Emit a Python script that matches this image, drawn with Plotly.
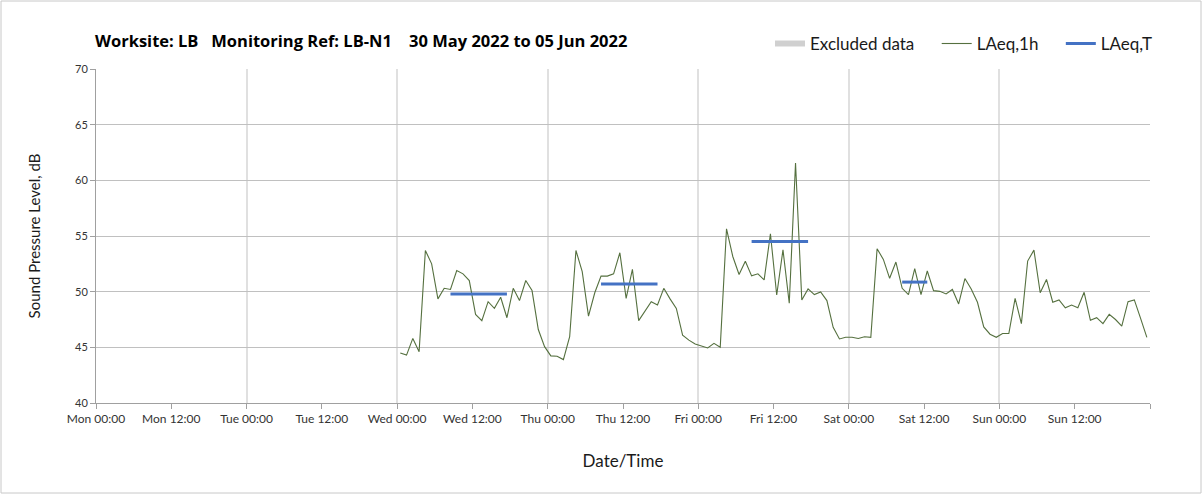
import pandas as pd
import plotly.graph_objects as go

# ---- data ----
laeq_1h_wed = [44.5, 44.3, 45.8, 44.6, 53.7, 52.5, 49.35, 50.3, 50.2, 51.9, 51.6, 51.0,
               47.96, 47.4, 49.1, 48.5, 49.5, 47.66, 50.3, 49.2, 51.0, 50.1, 46.6, 45.06]
laeq_1h_thu = [44.23, 44.2, 43.9, 45.95, 53.7, 51.8, 47.8, 49.9, 51.4, 51.4, 51.6, 53.5,
               49.4, 52.0, 47.4, 48.3, 49.1, 48.8, 50.3, 49.35, 48.5, 46.1, 45.65, 45.3]
laeq_1h_fri = [45.15, 44.94, 45.36, 45.0, 55.65, 53.16, 51.54, 52.74, 51.42, 51.6, 51.06, 55.2,
               49.7, 53.76, 48.96, 61.56, 49.26, 50.25, 49.74, 49.98, 49.2, 46.8, 45.75, 45.9]
laeq_1h_sat = [45.9, 45.8, 45.95, 45.9, 53.85, 52.9, 51.2, 52.66, 50.3, 49.73, 52.07, 49.73,
               51.86, 50.09, 50.03, 49.8, 50.2, 48.9, 51.18, 50.24, 49.05, 46.83, 46.18, 45.9]
laeq_1h_sun = [46.24, 46.24, 49.4, 47.13, 52.75, 53.73, 49.9, 51.1, 49.05, 49.26, 48.55, 48.8,
               48.55, 49.94, 47.43, 47.66, 47.13, 47.96, 47.5, 46.9, 49.1, 49.26, 47.6, 45.9]
hourly_values = laeq_1h_wed + laeq_1h_thu + laeq_1h_fri + laeq_1h_sat + laeq_1h_sun
hourly_times = pd.date_range("2022-06-01 00:30", periods=len(hourly_values), freq="h")

laeq_t_start = ["2022-06-01 08:30", "2022-06-02 08:30", "2022-06-03 08:30", "2022-06-04 08:30"]
laeq_t_end = ["2022-06-01 17:30", "2022-06-02 17:30", "2022-06-03 17:30", "2022-06-04 12:30"]
laeq_t_values = [49.8, 50.68, 54.51, 50.86]

tick_times = [t.strftime("%Y-%m-%d %H:%M") for t in
              pd.date_range("2022-05-30 00:00", "2022-06-06 00:00", freq="12h")]
tick_labels = ["Mon 00:00", "Mon 12:00", "Tue 00:00", "Tue 12:00", "Wed 00:00", "Wed 12:00",
               "Thu 00:00", "Thu 12:00", "Fri 00:00", "Fri 12:00", "Sat 00:00", "Sat 12:00",
               "Sun 00:00", "Sun 12:00", ""]
y_ticks = [40, 45, 50, 55, 60, 65, 70]

FONT = "Lato"
PAD = "&nbsp;" * 4

fig = go.Figure()

# Excluded data (legend only, no excluded periods)
fig.add_trace(go.Scatter(x=[None], y=[None], mode="none", fill="toself",
                         fillcolor="#d0d0d0", name="Excluded data" + PAD))

fig.add_trace(go.Scatter(x=hourly_times, y=hourly_values, mode="lines",
                         line=dict(color="#55703f", width=1.1), name="LAeq,1h" + PAD))

xs, ys = [], []
for s, e, v in zip(laeq_t_start, laeq_t_end, laeq_t_values):
    xs += [s, e, None]
    ys += [v, v, None]
fig.add_trace(go.Scatter(x=xs, y=ys, mode="lines",
                         line=dict(color="#4472c4", width=3), name="LAeq,T"))

fig.update_layout(
    width=1203, height=495,
    margin=dict(l=96, r=53, t=69, b=92, autoexpand=False),
    plot_bgcolor="white", paper_bgcolor="white",
    font=dict(family=FONT, color="#000000"),
    title=dict(text="<b>Worksite: LB&nbsp;&nbsp;&nbsp;Monitoring Ref: LB-N1&nbsp;&nbsp;&nbsp;&nbsp;30 May 2022 to 05 Jun 2022</b>",
               xref="container", x=95/1203, xanchor="left",
               yref="container", y=1-41/495, yanchor="middle",
               font=dict(size=16.5, family="Open Sans", color="#000000")),
    legend=dict(orientation="h", x=1.0076, xanchor="right", y=1.075, yanchor="middle",
                font=dict(size=17, family=FONT, color="#1a1a1a"), itemwidth=30,
                bgcolor="rgba(0,0,0,0)", traceorder="normal"),
    showlegend=True,
)

fig.update_xaxes(
    type="date", automargin=False,
    range=["2022-05-30 00:00", "2022-06-06 00:00"],
    tickmode="array", tickvals=tick_times, ticktext=tick_labels,
    ticks="outside", ticklen=5, tickcolor="#a0a0a0",
    showline=True, linecolor="#a0a0a0", linewidth=1,
    showgrid=False, zeroline=False,
    minor=dict(dtick=86400000, tick0="2022-05-30", showgrid=True, gridcolor="#e0e0e0",
               gridwidth=1.5, ticks=""),
    tickfont=dict(size=12, family=FONT, color="#333333"),
    title=dict(text="Date/Time", font=dict(size=17, family=FONT, color="#1a1a1a"), standoff=29),
)
fig.update_yaxes(
    automargin=False,
    range=[40, 70], tickvals=y_ticks,
    ticks="outside", ticklen=5, tickcolor="#a0a0a0",
    showline=True, linecolor="#a0a0a0", linewidth=1,
    showgrid=True, gridcolor="#c0c0c0", gridwidth=1, zeroline=False,
    tickfont=dict(size=11, family=FONT, color="#333333"),
    title=dict(text="Sound Pressure Level, dB", font=dict(size=15, family=FONT, color="#1a1a1a"), standoff=30),
)

# outer chart border
fig.add_shape(type="rect", xref="paper", yref="paper",
              x0=-95/1054, x1=1+51/1054, y0=-90/334, y1=1+68/334,
              line=dict(color="#c8c8c8", width=1), fillcolor="rgba(0,0,0,0)", layer="below")

fig.write_html("out.html", config={"displayModeBar": False},
               post_script="document.body.style.margin='0';")
